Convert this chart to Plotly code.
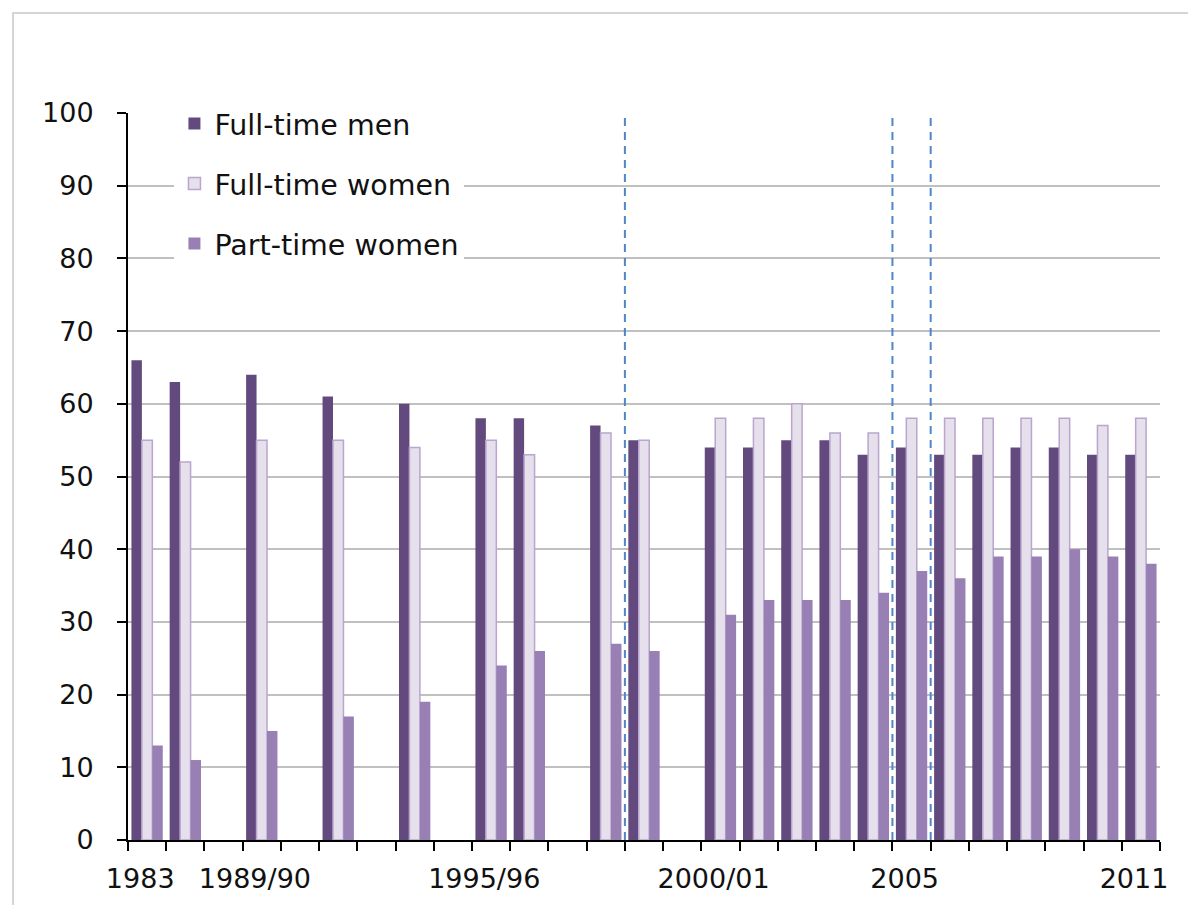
import plotly.graph_objects as go

# ---- data ----
periods = ["1983", "1984", "1985", "1989/90", "1990/91", "1991/92", "1992/93",
           "1993/94", "1994/95", "1995/96", "1996/97", "1997/98", "1998/99",
           "1999/00", "gap", "2000/01", "2001/02", "2002/03", "2003/04",
           "2004/05", "2005", "2006", "2007", "2008", "2009", "2010", "2011"]
full_time_men = [66, 63, None, 64, None, 61, None, 60, None, 58, 58, None, 57,
                 55, None, 54, 54, 55, 55, 53, 54, 53, 53, 54, 54, 53, 53]
full_time_women = [55, 52, None, 55, None, 55, None, 54, None, 55, 53, None, 56,
                   55, None, 58, 58, 60, 56, 56, 58, 58, 58, 58, 58, 57, 58]
part_time_women = [13, 11, None, 15, None, 17, None, 19, None, 24, 26, None, 27,
                   26, None, 31, 33, 33, 33, 34, 37, 36, 39, 39, 40, 39, 38]
labelled_periods = ["1983", "1989/90", "1995/96", "2000/01", "2005", "2011"]
break_after = ["1998/99", "2004/05", "2005"]   # series discontinuities
y_ticks = [0, 10, 20, 30, 40, 50, 60, 70, 80, 90, 100]

idx = list(range(len(periods)))
LABEL_SHIFT = -0.18
tick_pos = [periods.index(p) + LABEL_SHIFT for p in labelled_periods]
break_pos = [periods.index(p) + 0.5 for p in break_after]

FONT = "DejaVu Sans"

fig = go.Figure()
fig.add_trace(go.Bar(x=idx, y=full_time_men, name="Full-time men",
                     marker=dict(color="#634A7E", line=dict(color="#634A7E", width=0)),
                     legendgroup="a"))
fig.add_trace(go.Bar(x=idx, y=full_time_women, name="Full-time women",
                     marker=dict(color="#E6E0EC", line=dict(color="#B9A5CD", width=1.5)),
                     legendgroup="b"))
fig.add_trace(go.Bar(x=idx, y=part_time_women, name="Part-time women",
                     marker=dict(color="#987FB4", line=dict(color="#987FB4", width=0)),
                     legendgroup="c"))

shapes = []
for bp in break_pos:
    shapes.append(dict(type="line", xref="x", yref="y", x0=bp, x1=bp, y0=0, y1=99.3,
                       line=dict(color="#4F86C6", width=2, dash="8px,6px"), layer="above"))
# outer chart border (cut off at right/bottom like the reference)
shapes.append(dict(type="rect", xref="paper", yref="paper",
                   x0=-115/1032, x1=1.06, y0=-0.2, y1=1 + 100/727,
                   line=dict(color="#C8C8C8", width=1.5), fillcolor="rgba(0,0,0,0)",
                   layer="below"))

fig.update_layout(
    width=1188, height=905,
    margin=dict(l=128, r=28, t=113, b=65),
    paper_bgcolor="white", plot_bgcolor="white",
    barmode="group", bargap=0.18, bargroupgap=0,
    font=dict(family=FONT, size=26, color="#111111"),
    showlegend=True,
    legend=dict(x=0.045, y=1.02, xanchor="left", yanchor="top",
                bgcolor="white", font=dict(family=FONT, size=28.5, color="#111111"),
                tracegroupgap=20, itemclick=False),
    shapes=shapes,
    xaxis=dict(range=[-0.5, len(periods) - 0.5], tickmode="array",
               tickvals=tick_pos, ticktext=labelled_periods,
               ticks="", showgrid=False, zeroline=False,
               showline=True, linecolor="black", linewidth=2,
               ticklabelstandoff=14,
               tickfont=dict(family=FONT, size=27, color="#111111"),
               minor=dict(tickmode="array", tickvals=[i - 0.5 for i in range(len(periods) + 1)],
                          ticks="outside", ticklen=9, tickwidth=2, tickcolor="black",
                          showgrid=False)),
    yaxis=dict(range=[0, 100], tickmode="array", tickvals=y_ticks,
               ticks="outside", ticklen=9, tickwidth=2, tickcolor="black",
               showgrid=True, gridcolor="#C0C0C0", gridwidth=2,
               zeroline=False, showline=True, linecolor="black", linewidth=2,
               ticklabelstandoff=18,
               tickfont=dict(family=FONT, size=27, color="#111111")),
)

fig.write_html("out.html")
